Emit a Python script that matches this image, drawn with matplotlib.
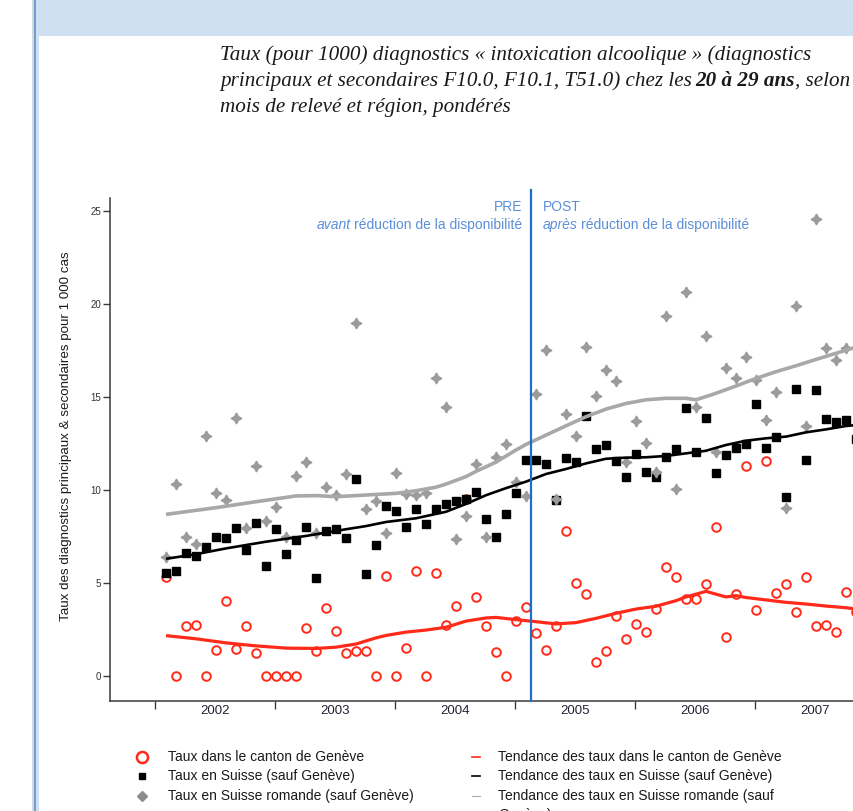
import numpy as np
import matplotlib
matplotlib.use("Agg")
import matplotlib.pyplot as plt
from matplotlib.patches import Rectangle

# ---------------- data ----------------
start_year = 2002
n_months = 70          # monthly values, January 2002 onwards
intervention = 2005 + 1.6 / 12   # between January and February 2005

geneve = [5.3, 0, 2.69, 2.74, 0, 1.40, 4.05, 1.43, 2.69, 1.22,
          0, 0, 0, 0, 2.56, 1.34, 3.64, 2.44, 1.22, 1.36,
          1.36, 0, 5.36, 0, 1.49, 5.66, 0, 5.56, 2.72, 3.77,
          9.5, 4.27, 2.69, 1.31, 0, 2.97, 3.73, 2.31, 1.40, 2.71,
          7.81, 5.02, 4.41, 0.77, 1.36, 3.23, 1.97, 2.81, 2.35, 3.62,
          5.84, 5.30, 4.12, 4.13, 4.94, 7.99, 2.07, 4.42, 11.28, 3.55,
          11.57, 4.48, 4.95, 3.42, 5.34, 2.71, 2.76, 2.35, 4.52, 3.42]

suisse = [5.53, 5.65, 6.59, 6.45, 6.95, 7.49, 7.44, 7.95, 6.77, 8.24,
          5.93, 7.89, 6.57, 7.30, 8.03, 5.25, 7.81, 7.89, 7.44, 10.58,
          5.46, 7.04, 9.14, 8.87, 8.03, 8.96, 8.15, 8.96, 9.23, 9.41,
          9.52, 9.91, 8.42, 7.49, 8.69, 9.86, 11.63, 11.61, 11.38, 9.46,
          11.70, 11.49, 14.0, 12.20, 12.42, 11.56, 10.72, 11.92, 10.95, 10.72,
          11.76, 12.20, 14.39, 12.03, 13.85, 10.92, 11.90, 12.24, 12.49, 14.62,
          12.24, 12.83, 9.60, 15.43, 11.61, 15.38, 13.8, 13.67, 13.78, 12.72]

romande = [6.42, 10.3, 7.49, 7.1, 12.9, 9.82, 9.46, 13.87, 7.94, 11.3,
           8.33, 9.06, 7.49, 10.75, 11.52, 7.67, 10.16, 9.74, 10.86, 18.97,
           8.98, 9.43, 7.71, 10.93, 9.80, 9.73, 9.86, 16.04, 14.48, 7.35,
           8.6, 11.4, 7.46, 11.76, 12.46, 10.45, 9.66, 15.14, 17.53, 9.5,
           14.1, 12.9, 17.71, 15.05, 16.45, 15.84, 11.52, 13.69, 12.54, 10.99,
           19.35, 10.07, 20.66, 14.46, 18.28, 12.03, 16.56, 16.02, 17.13, 15.91,
           13.76, 15.29, 9.05, 19.88, 13.44, 24.57, 17.65, 16.97, 17.65, np.nan]

# trend curves (month index, value)
trend_geneve_k = [0, 3, 6, 9, 12, 15, 17, 19, 21, 22, 24, 26, 28, 30, 32, 33, 35, 37, 39, 41,
                  43, 45, 47, 49, 51, 52, 53, 54, 55, 56, 57, 58, 60, 62, 64, 66, 68, 69]
trend_geneve = [2.17, 2.0, 1.78, 1.62, 1.50, 1.48, 1.55, 1.72, 2.05, 2.18, 2.36, 2.47, 2.62, 2.95,
                3.12, 3.15, 3.03, 2.92, 2.80, 2.87, 3.10, 3.37, 3.60, 3.75, 4.05, 4.25, 4.40, 4.55,
                4.40, 4.25, 4.32, 4.22, 4.09, 3.96, 3.87, 3.76, 3.67, 3.60]

trend_suisse_k = [0, 3, 6, 10, 14, 18, 20, 22, 25, 28, 30, 32, 34, 36, 38, 40, 42, 44, 46, 48,
                  50, 52, 54, 56, 58, 60, 62, 64, 66, 68, 69]
trend_suisse = [6.30, 6.55, 6.86, 7.22, 7.53, 7.89, 8.06, 8.28, 8.48, 8.83, 9.25, 9.72, 10.1,
                10.45, 10.86, 11.13, 11.43, 11.68, 11.74, 11.76, 11.83, 11.97, 12.11, 12.42,
                12.65, 12.78, 12.87, 13.10, 13.26, 13.44, 13.49]

trend_romande_k = [0, 5, 9, 13, 15, 17, 20, 23, 25, 27, 28, 30, 31, 33, 35, 36, 38, 40, 42, 44,
                   46, 48, 50, 52, 53, 55, 57, 59, 61, 63, 65, 67, 69]
trend_romande = [8.69, 9.05, 9.37, 9.68, 9.70, 9.64, 9.73, 9.82, 9.96, 10.15, 10.32, 10.72, 11.0,
                 11.5, 12.15, 12.45, 12.95, 13.45, 13.94, 14.35, 14.65, 14.85, 14.93, 14.93,
                 14.85, 15.2, 15.59, 16.0, 16.36, 16.68, 17.02, 17.35, 17.68]

year_labels = ["2002", "2003", "2004", "2005", "2006", "2007"]

title_l1 = "Taux (pour 1000) diagnostics « intoxication alcoolique » (diagnostics"
title_l2a = "principaux et secondaires F10.0, F10.1, T51.0) chez les"
title_l2b = "20 à 29 ans"
title_l2c = ", selon"
title_l3 = "mois de relevé et région, pondérés"
ylabel = "Taux des diagnostics principaux & secondaires pour 1 000 cas"
legend_left = ["Taux dans le canton de Genève", "Taux en Suisse (sauf Genève)",
               "Taux en Suisse romande (sauf Genève)"]
legend_right = ["Tendance des taux dans le canton de Genève",
                "Tendance des taux en Suisse (sauf Genève)",
                "Tendance des taux en Suisse romande (sauf"]
legend_right_wrap = "Genève)"

# ---------------- helpers ----------------
def xpos(k):
    k = np.asarray(k, dtype=float)
    return start_year + (k + 1.1) / 12.0

RED = "#ff2a1a"
GREY = "#9b9b9b"
GREY_LINE = "#a8a8a8"
BLUE = "#1f6fc4"
LBLUE = "#5b8fd8"
SANS = "Liberation Sans"
SERIF = "Liberation Serif"

W, H = 854, 811
fig = plt.figure(figsize=(W / 100, H / 100), dpi=100)

# page decoration / overlay in pixel coordinates
ov = fig.add_axes([0, 0, 1, 1], zorder=-5)
ov.set_xlim(0, W)
ov.set_ylim(H, 0)
ov.axis("off")
ov.add_patch(Rectangle((36, 0), W - 36, 36, color="#cfe0f2", lw=0))
ov.add_patch(Rectangle((36, 0), 3.5, H, color="#cfe0f2", lw=0))
ov.add_patch(Rectangle((32.5, 0), 2.5, H, color="#d8d8d8", lw=0))
ov.add_patch(Rectangle((34.5, 0), 2, H, color="#6d9ed3", lw=0))

# ---------------- main axes ----------------
ax_l, ax_r, ax_t, ax_b = 110, 854, 198, 701
ax = fig.add_axes([ax_l / W, 1 - ax_b / H, (ax_r - ax_l) / W, (ax_b - ax_t) / H])
ax.patch.set_visible(False)
y0px = 676.0
ppu = 18.6

k = np.arange(n_months)
ax.plot(xpos(k), geneve, ls="none", marker="o", ms=6.2, mfc="none", mec=RED, mew=1.4, zorder=3)
ax.plot(xpos(k), suisse, ls="none", marker="s", ms=5.6, color="black", zorder=4)
ax.plot(xpos(k), romande, ls="none", marker=(4, 1, 0), ms=7.8, color=GREY, mec=GREY, zorder=5)

ax.plot(xpos(trend_geneve_k), trend_geneve, color=RED, lw=2.3, zorder=6, solid_capstyle="butt")
ax.plot(xpos(trend_suisse_k), trend_suisse, color="black", lw=1.9, zorder=6, solid_capstyle="butt")
ax.plot(xpos(trend_romande_k), trend_romande, color=GREY_LINE, lw=2.6, zorder=6, solid_capstyle="butt")

for s in ("top", "right"):
    ax.spines[s].set_visible(False)
for s in ("left", "bottom"):
    ax.spines[s].set_color("#3a3a3a")
    ax.spines[s].set_linewidth(1.1)

years = [int(y) for y in year_labels] + [int(year_labels[-1]) + 1]
ax.set_xticks(years)
ax.set_xticklabels([])
ax.set_xticks([int(y) + 0.5 for y in year_labels], minor=True)
ax.set_xticklabels(year_labels, minor=True, fontsize=9.5, family=SANS, color="#222233")
ax.tick_params(axis="x", which="major", length=6, width=1, color="#3a3a3a", direction="out")
ax.tick_params(axis="x", which="minor", length=0, pad=3)
ax.set_yticks([0, 5, 10, 15, 20, 25])
ax.set_yticklabels(["0", "5", "10", "15", "20", "25"], fontsize=7, family=SANS, color="#333333")
ax.tick_params(axis="y", length=5, width=1, color="#3a3a3a", pad=1.5)

# limits after ticks (set_xticks may expand the view)
ax.set_ylim((y0px - ax_b) / ppu, (y0px - ax_t) / ppu)
ax.set_xlim(2002 + (ax_l - 155) / 120.0, 2002 + (ax_r - 155) / 120.0)

ytop_line = (y0px - 190) / ppu
ax.plot([intervention, intervention], [ax.get_ylim()[0], ytop_line], color=BLUE, lw=1.6,
        clip_on=False, zorder=7)

# ---------------- texts ----------------
fig.canvas.draw()
R = fig.canvas.get_renderer()

def width_px(t):
    bb = t.get_window_extent(R)
    return bb.x1 - bb.x0

def txt(x, y, s, **kw):
    return ov.text(x, y, s, **kw)

# title (fit first line to its width in the reference)
probe = txt(0, 0, title_l1, family=SERIF, style="italic", fontsize=12)
fs_title = 12 * 590.0 / width_px(probe)
probe.remove()
tkw = dict(family=SERIF, style="italic", fontsize=fs_title, color="#1a1a1a", va="baseline")
txt(220, 60, title_l1, **tkw)
t_a = txt(220, 86, title_l2a, **tkw)
fig.canvas.draw()
gap = fs_title * 0.25
xa = t_a.get_window_extent(R).x1 + gap
t_b = txt(xa, 86, title_l2b, weight="bold", **tkw)
fig.canvas.draw()
xb = t_b.get_window_extent(R).x1
txt(xb, 86, title_l2c, **tkw)
txt(220, 112, title_l3, **tkw)

# PRE / POST annotations (drawn above the axes)
afs = 10.0
akw = dict(family=SANS, fontsize=afs, color=LBLUE, va="center", zorder=20)
def atxt(x, y, s, **kw):
    return fig.text(x / W, 1 - y / H, s, **kw)
atxt(522, 207, "PRE", ha="right", **akw)
atxt(543, 207, "POST", ha="left", **akw)
t_r = atxt(522, 225, "réduction de la disponibilité", ha="right", **akw)
fig.canvas.draw()
xl = t_r.get_window_extent(R).x0 - afs * 0.28
atxt(xl, 225, "avant", ha="right", style="italic", **akw)
t_ap = atxt(543, 225, "après", ha="left", style="italic", **akw)
fig.canvas.draw()
xr = t_ap.get_window_extent(R).x1 + afs * 0.28
atxt(xr, 225, "réduction de la disponibilité", ha="left", **akw)

# y label
txt(66, 436, ylabel, rotation=90, ha="center", va="center", family=SANS, fontsize=9.6,
    color="#1a1a1a")

# ---------------- legend ----------------
rows = [757, 776, 796]
lkw = dict(family=SANS, fontsize=10.0, color="#1a1a1a", va="center")
ov.plot([142], [rows[0]], marker="o", ms=8, mfc="none", mec=RED, mew=1.8, ls="none")
ov.plot([142], [rows[1]], marker="s", ms=5, color="black", ls="none")
ov.plot([142], [rows[2]], marker="D", ms=5, color="#8c8c8c", ls="none")
for y, s in zip(rows, legend_left):
    txt(168, y, s, **lkw)
ov.plot([472, 480], [rows[0], rows[0]], color=RED, lw=1.2)
ov.plot([472, 480], [rows[1], rows[1]], color="black", lw=1.2)
ov.plot([472, 480], [rows[2], rows[2]], color=GREY_LINE, lw=0.8)
for y, s in zip(rows, legend_right):
    txt(498, y, s, **lkw)
txt(498, 815, legend_right_wrap, **lkw)

fig.savefig("out.png", dpi=100)
